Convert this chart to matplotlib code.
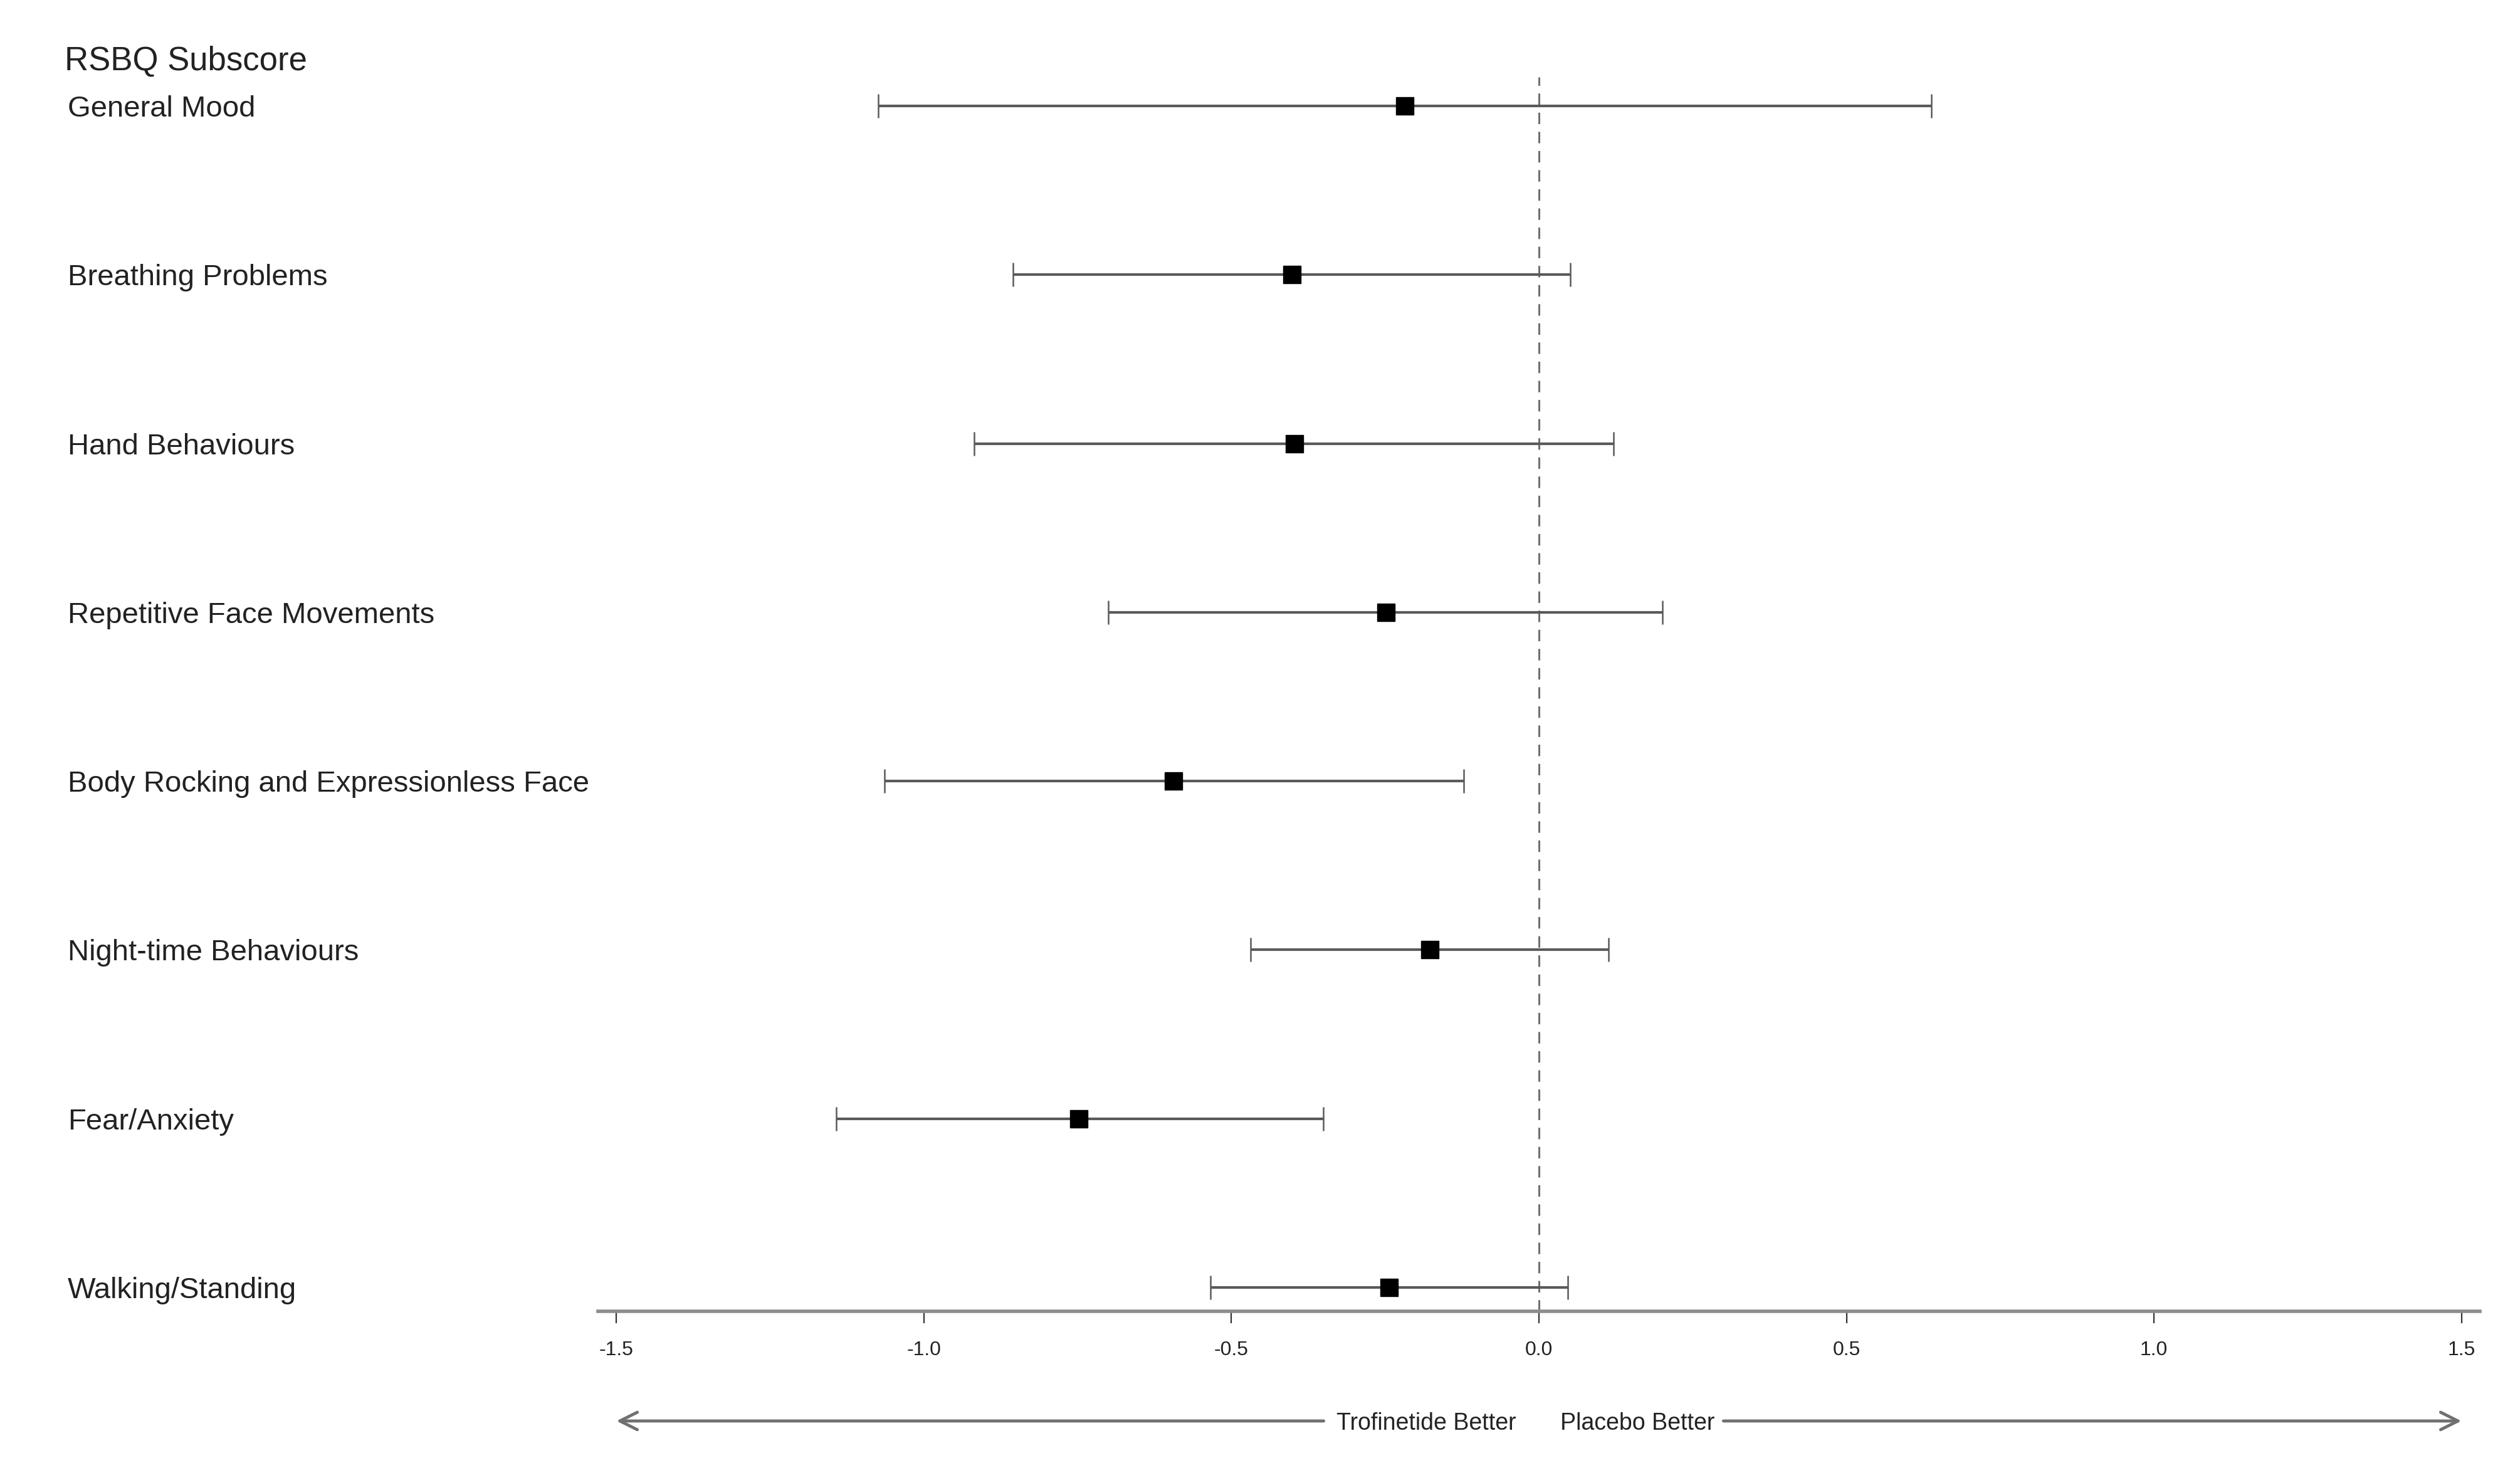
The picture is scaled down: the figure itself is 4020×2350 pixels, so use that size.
import matplotlib
matplotlib.use("Agg")
import matplotlib.pyplot as plt
import numpy as np

plt.rcParams['font.family'] = ['Liberation Sans', 'DejaVu Sans']

# ---- data ----
subscores = ["General Mood", "Breathing Problems", "Hand Behaviours",
             "Repetitive Face Movements", "Body Rocking and Expressionless Face",
             "Night-time Behaviours", "Fear/Anxiety", "Walking/Standing"]
estimate = [-0.218, -0.402, -0.398, -0.249, -0.594, -0.177, -0.748, -0.244]
ci_low = [-1.074, -0.855, -0.918, -0.700, -1.064, -0.469, -1.143, -0.534]
ci_high = [0.638, 0.051, 0.121, 0.201, -0.122, 0.113, -0.351, 0.047]
xticks = [-1.5, -1.0, -0.5, 0.0, 0.5, 1.0, 1.5]
xtick_labels = ["-1.5", "-1.0", "-0.5", "0.0", "0.5", "1.0", "1.5"]
header = "RSBQ Subscore"
left_label = "Trofinetide Better"
right_label = "Placebo Better"

W, H = 4020, 2350
fig = plt.figure(figsize=(W / 100, H / 100), dpi=100)

ax_left, ax_right = 954, 3956
ax_bottom, ax_top = 2092, 123
ax = fig.add_axes([ax_left / W, 1 - ax_bottom / H,
                   (ax_right - ax_left) / W, (ax_bottom - ax_top) / H])

n = len(subscores)
ypos = np.arange(n, 0, -1)  # top row = n
row_gap = 269.4
ax.set_xlim(-1.53, 1.53)
ax.set_ylim(1 - (2092 - 2054) / row_gap, n + (169 - 123) / row_gap)

est = np.array(estimate)
lo = np.array(ci_low)
hi = np.array(ci_high)

ax.axvline(0, color='#6f6f6f', lw=2.2, dashes=(6, 4), zorder=1)

ax.errorbar(est, ypos, xerr=[est - lo, hi - est], fmt='none',
            ecolor='#5a5a5a', elinewidth=3.0, capsize=13.5, capthick=1.8, zorder=2)
ax.plot(est, ypos, 's', color='black', markersize=20, zorder=3)

for sp in ['top', 'right', 'left']:
    ax.spines[sp].set_visible(False)
ax.spines['bottom'].set_color('#8c8c8c')
ax.spines['bottom'].set_linewidth(4.0)
ax.set_yticks([])
ax.set_xticks(xticks)
ax.set_xticklabels(xtick_labels)
ax.tick_params(axis='x', direction='out', length=14, width=1.6, color='#333333',
               labelsize=23, labelcolor='#222222', pad=20)

# row labels and header (figure pixel positions)
for lab, y in zip(subscores, ypos):
    ax.annotate(lab, xy=(108 / W, y), xycoords=('figure fraction', 'data'),
                xytext=(0, -3.6), textcoords='offset points',
                ha='left', va='center', fontsize=34, color='#222222')
fig.text(103 / W, 1 - 97 / H, header, ha='left', va='center', fontsize=38, color='#222222')

# direction arrows under the axis
ay = 1 - 2267 / H
ty = 1 - 2271 / H
arrow_kw = dict(arrowstyle='->,head_length=2.0,head_width=1.0', color='#707070',
                lw=3.5, mutation_scale=10, shrinkA=0, shrinkB=0)
ax.annotate('', xy=(-1.5, ay), xytext=(-0.35, ay),
            xycoords=('data', 'figure fraction'), textcoords=('data', 'figure fraction'),
            arrowprops=arrow_kw, annotation_clip=False)
ax.annotate('', xy=(1.5, ay), xytext=(0.30, ay),
            xycoords=('data', 'figure fraction'), textcoords=('data', 'figure fraction'),
            arrowprops=arrow_kw, annotation_clip=False)
ax.annotate(left_label, xy=(-0.037, ty), xycoords=('data', 'figure fraction'),
            ha='right', va='center', fontsize=27, color='#222222', annotation_clip=False,
            bbox=dict(facecolor='white', edgecolor='none', pad=1))
ax.annotate(right_label, xy=(0.035, ty), xycoords=('data', 'figure fraction'),
            ha='left', va='center', fontsize=27, color='#222222', annotation_clip=False,
            bbox=dict(facecolor='white', edgecolor='none', pad=1))

fig.savefig("out.png", dpi=100, facecolor='white')
